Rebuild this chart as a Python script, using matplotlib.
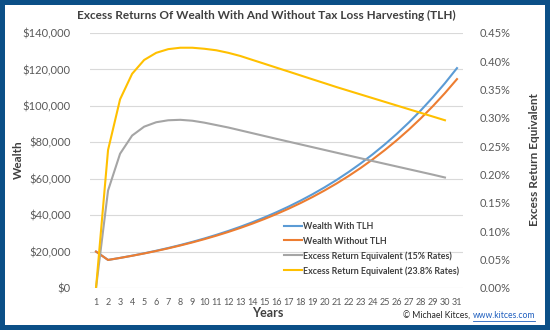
import matplotlib
matplotlib.use('Agg')
import matplotlib.pyplot as plt
from matplotlib.patches import Rectangle
from matplotlib.ticker import FuncFormatter

plt.rcParams['font.family'] = ['Lato', 'DejaVu Sans']

years = list(range(1, 32))

# wealth paths ($)
wealth_with_tlh = [20000, 15400, 16533, 17750, 19056, 20458, 21963, 23579, 25314, 27177,
                   29177, 31324, 33629, 36104, 38761, 41613, 44675, 47963, 51492, 55281,
                   59349, 63716, 68405, 73439, 78843, 84645, 90874, 97561, 104740, 112448,
                   120723]
wealth_without_tlh = [20000, 15400, 16505, 17689, 18957, 20317, 21774, 23335, 25009, 26802,
                      28724, 30784, 32991, 35357, 37892, 40609, 43520, 46640, 49983, 53566,
                      57405, 61519, 65928, 70653, 75716, 81142, 86957, 93187, 99864, 107019,
                      114687]

# excess return equivalent (%), years 1-30
excess_15 = [0.0, 0.172, 0.237, 0.269, 0.2847, 0.2925, 0.2960, 0.2968, 0.2952, 0.2918,
             0.2875, 0.2832, 0.2782, 0.2732, 0.2682, 0.2632, 0.2583, 0.2534, 0.2485, 0.2436,
             0.2387, 0.2338, 0.2289, 0.2240, 0.2192, 0.2144, 0.2096, 0.2048, 0.2000, 0.1950]
excess_238 = [0.0, 0.2435, 0.333, 0.378, 0.4024, 0.4150, 0.4215, 0.4240, 0.4240, 0.4222,
              0.4195, 0.4150, 0.4094, 0.4025, 0.3957, 0.3888, 0.3820, 0.3751, 0.3682, 0.3614,
              0.3545, 0.3480, 0.3415, 0.3350, 0.3285, 0.3220, 0.3155, 0.3090, 0.3025, 0.2960]

title = 'Excess Returns Of Wealth With And Without Tax Loss Harvesting (TLH)'

c_blue = '#5B9BD5'
c_orange = '#ED7D31'
c_gray = '#A5A5A5'
c_yellow = '#FFC000'
txt = '#595959'
dark = '#404040'

fig = plt.figure(figsize=(5.5, 3.3), dpi=100)
fig.patch.set_facecolor('#0B4F87')
fig.patches.append(Rectangle((5 / 550, 5 / 330), 540 / 550, 320 / 330,
                             transform=fig.transFigure, facecolor='white',
                             edgecolor='none', zorder=-10))

ax = fig.add_axes([90 / 550, 1 - 288 / 330, 373 / 550, 255 / 330])
ax2 = ax.twinx()
ax.patch.set_alpha(0)
ax2.patch.set_alpha(0)

ax.set_xlim(0.5, 31.5)
ax.set_ylim(0, 140000)
ax.set_yticks(range(0, 140001, 20000))
ax.yaxis.set_major_formatter(FuncFormatter(lambda v, p: '${:,.0f}'.format(v)))
ax.set_xticks(years)
ax.set_xticklabels([str(y) for y in years])
ax.grid(axis='y', color='#D9D9D9', linewidth=0.8)
ax.set_axisbelow(True)

ax2.set_ylim(0, 0.45)
ax2.set_yticks([i * 0.05 for i in range(10)])
ax2.yaxis.set_major_formatter(FuncFormatter(lambda v, p: '{:.2f}%'.format(v)))

for a in (ax, ax2):
    for s in a.spines.values():
        s.set_visible(False)
    a.tick_params(length=0, colors=txt)
ax.tick_params(axis='y', labelsize=8, pad=14)
ax.tick_params(axis='x', labelsize=6.5, pad=7)
ax2.tick_params(axis='y', labelsize=8, pad=12)

l1, = ax.plot(years, wealth_with_tlh, color=c_blue, lw=1.5, label='Wealth With TLH')
l2, = ax.plot(years, wealth_without_tlh, color=c_orange, lw=1.5, label='Wealth Without TLH')
l3, = ax2.plot(years[:30], excess_15, color=c_gray, lw=1.5,
               label='Excess Return Equivalent (15% Rates)')
l4, = ax2.plot(years[:30], excess_238, color=c_yellow, lw=1.5,
               label='Excess Return Equivalent (23.8% Rates)')

leg = ax2.legend(handles=[l1, l2, l3, l4], loc='upper left',
                 bbox_to_anchor=(284 / 550, 1 - 222 / 330), bbox_transform=fig.transFigure,
                 frameon=False, fontsize=6.4, handlelength=2.0, handletextpad=0.1,
                 labelspacing=0.62, borderaxespad=0, borderpad=0)
for t in leg.get_texts():
    t.set_color(dark)
    t.set_fontweight('bold')

fig.text(266 / 550, 1 - 15 / 330, title, ha='center', va='center',
         fontsize=8.5, fontweight='bold', color=dark)
fig.text(18 / 550, 1 - 160 / 330, 'Wealth', rotation=90, ha='center', va='center',
         fontsize=8.5, fontweight='bold', color=dark)
fig.text(535 / 550, 1 - 160 / 330, 'Excess Return Equivalent', rotation=90,
         ha='center', va='center', fontsize=8.5, fontweight='bold', color=dark)
fig.text(268 / 550, 1 - 313 / 330, 'Years', ha='center', va='center',
         fontsize=9, fontweight='bold', color=dark)

# credit line with underlined link, right-aligned
link = fig.text(535 / 550, 1 - 316 / 330, 'www.kitces.com', ha='right', va='center',
                fontsize=6.2, color='#1F5FBF')
fig.canvas.draw()
lb = link.get_window_extent()
fig.text(lb.x0 / 550, 1 - 316 / 330, '\u00a9 Michael Kitces, ', ha='right',
         va='center', fontsize=6.2, color='#262626')
fig.lines.append(plt.Line2D([lb.x0 / 550, lb.x1 / 550], [(lb.y0 - 0.3) / 330] * 2,
                            transform=fig.transFigure, color='#1F5FBF', lw=0.6))

fig.savefig('out.png', dpi=100, facecolor=fig.get_facecolor())
